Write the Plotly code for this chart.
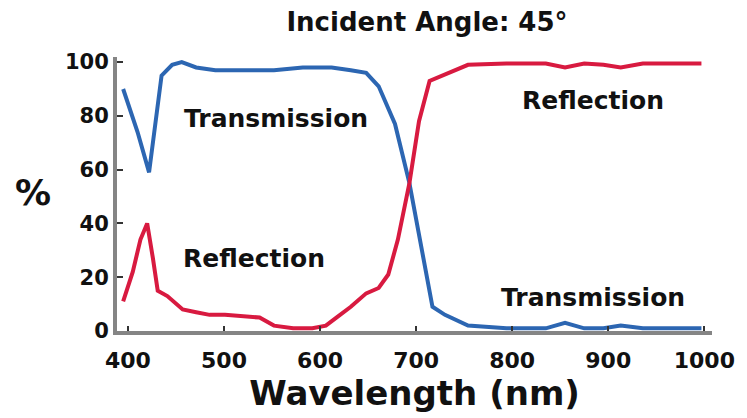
import plotly.graph_objects as go

# Transmission (blue)
trans_nm = [395, 402, 410, 422, 428, 435, 446, 456, 471, 491, 521, 552, 582, 612, 632, 648,
            661, 678, 693, 710, 717, 730, 754, 794, 835, 855, 875, 895, 913, 936, 966, 997]
trans_pct = [90, 83, 74, 59, 75, 95, 99, 100, 98, 97, 97, 97, 98, 98, 97, 96,
             91, 77, 55, 22, 9, 6, 2, 1, 1, 3, 1, 1, 2, 1, 1, 1]

# Reflection (red)
refl_nm = [395, 405, 413, 420, 426, 431, 441, 457, 471, 485, 501, 519, 537, 552, 572, 592, 606,
           617, 632, 648, 661, 671, 681, 693, 703, 714, 734, 754, 794, 835, 855, 875, 895, 913,
           936, 966, 997]
refl_pct = [11, 22, 34, 40, 27, 15, 13, 8, 7, 6, 6, 5.5, 5, 2, 1, 1, 2,
            5, 9, 14, 16, 21, 34, 55, 78, 93, 96, 99, 99.5, 99.5, 98, 99.5, 99, 98,
            99.5, 99.5, 99.5]

x_ticks = [400, 500, 600, 700, 800, 900, 1000]
y_ticks = [0, 20, 40, 60, 80, 100]

BLUE = "#2c66b2"
RED = "#d81a40"
GRAY = "#858585"
FONT = "DejaVu Sans"

fig = go.Figure()
fig.add_trace(go.Scatter(x=trans_nm, y=trans_pct, mode="lines",
                         line=dict(color=BLUE, width=4), name="Transmission",
                         cliponaxis=False))
fig.add_trace(go.Scatter(x=refl_nm, y=refl_pct, mode="lines",
                         line=dict(color=RED, width=4), name="Reflection",
                         cliponaxis=False))

label_font = dict(family=FONT, size=25, color="#111111", weight="bold")
fig.add_annotation(x=554, y=79.2, text="Transmission", showarrow=False, font=label_font)
fig.add_annotation(x=531, y=27.1, text="Reflection", showarrow=False, font=label_font)
fig.add_annotation(x=884, y=85.9, text="Reflection", showarrow=False, font=label_font)
fig.add_annotation(x=884, y=12.3, text="Transmission", showarrow=False, font=label_font)

# upright "%" y-axis label
fig.add_annotation(xref="paper", yref="paper", x=-0.1405, y=0.507, text="%",
                   showarrow=False, xanchor="center", yanchor="middle",
                   font=dict(family=FONT, size=36, color="#111111", weight="bold"))

fig.update_layout(
    width=747, height=418,
    margin=dict(l=117, r=32, t=57, b=87),
    paper_bgcolor="white", plot_bgcolor="white",
    showlegend=False,
    title=dict(text="Incident Angle: 45°", x=0.5716, xanchor="center", xref="container",
               y=0.947, yanchor="middle", yref="container",
               font=dict(family=FONT, size=26, color="#111111", weight="bold")),
    xaxis=dict(range=[388.6, 1008], tickvals=x_ticks, ticktext=[str(v) for v in x_ticks],
               showgrid=False, zeroline=False, showline=True, linecolor=GRAY, linewidth=4,
               ticks="inside", ticklen=5, tickwidth=2, tickcolor="#333333",
               ticklabelstandoff=7,
               tickfont=dict(family=FONT, size=22, color="#111111", weight="bold"),
               title=dict(text="Wavelength (nm)", standoff=0,
                          font=dict(family=FONT, size=34, color="#111111", weight="bold"))),
    yaxis=dict(range=[0, 101.9], tickvals=y_ticks, ticktext=[str(v) for v in y_ticks],
               showgrid=False, zeroline=False, showline=True, linecolor=GRAY, linewidth=4,
               ticks="inside", ticklen=6, tickwidth=2, tickcolor="#333333",
               tickfont=dict(family=FONT, size=21, color="#111111", weight="bold")),
)

fig.write_html("out.html", config={"displayModeBar": False},
               post_script="document.body.style.margin='0';")
